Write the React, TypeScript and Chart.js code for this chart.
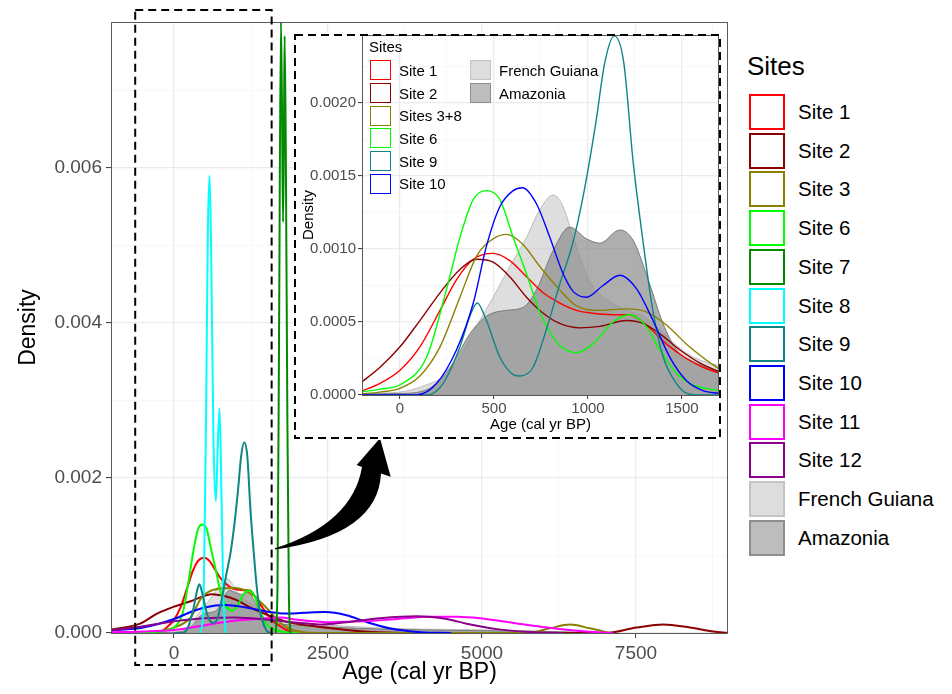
import React, { useEffect, useRef } from "react";
import { Chart, registerables } from "chart.js";
Chart.register(...registerables);

const FONT = "'Liberation Sans', Arial, Helvetica, sans-serif";

// ---------------- MAIN CHART DATA (Age cal yr BP, density) ----------------
const mSite1X = [-1050, -500, -212, -106, 0, 106, 213, 301, 390, 496, 584, 673, 762, 850, 939, 1027, 1133, 1222, 1310, 1417, 1523, 1612, 1700, 1800, 1900, 2000];
const mSite1Y = [0, 0.000005, 0.000023, 0.00008, 0.00017, 0.00033, 0.00058, 0.00079, 0.00093, 0.00097, 0.00092, 0.00081, 0.0007, 0.00063, 0.00058, 0.00056, 0.00055, 0.00055, 0.00048, 0.00035, 0.00023, 0.00015, 0.0001, 0.00005, 0.00001, 0];
const mSite2X = [-1050, -550, -275, 0, 270, 500, 620, 800, 1000, 1260, 1530, 1800, 2340, 2800, 3300, 4000, 7000, 7510, 7943, 8376, 8754, 8990];
const mSite2Y = [0.00004, 0.00012, 0.00025, 0.00034, 0.00041, 0.00048, 0.0005, 0.00048, 0.00043, 0.00032, 0.00023, 0.00015, 0.00008, 0.00004, 0.00001, 0, 0, 0.00007, 0.00011, 0.00007, 0.00002, 0];
const mSite3X = [-1050, -300, 0, 270, 450, 720, 1000, 1260, 1530, 1700, 1860, 2100, 2300, 5750, 6100, 6430, 6750, 7080];
const mSite3Y = [0, 0.00002, 0.00007, 0.0002, 0.00046, 0.00057, 0.00058, 0.0005, 0.0003, 0.00015, 0.00006, 0.00001, 0, 0, 0.00006, 0.00011, 0.00006, 0];
const mSite6X = [-1050, -500, -212, -106, 0, 142, 251, 319, 390, 460, 531, 602, 673, 753, 850, 939, 1027, 1133, 1222, 1310, 1381, 1470, 1558, 1691, 1850, 2000];
const mSite6Y = [0, 0.00001, 0.00002, 0.00004, 0.00007, 0.00026, 0.00074, 0.00108, 0.00134, 0.0014, 0.00134, 0.00108, 0.00083, 0.00054, 0.00034, 0.00029, 0.00035, 0.0005, 0.00055, 0.00047, 0.00031, 0.00015, 0.00007, 0.00003, 0.000005, 0];
const mSite7X = [1650, 1680, 1705, 1736, 1755, 1770, 1785, 1796, 1815, 1840, 1865, 1890];
const mSite7Y = [0, 0.0006, 0.0038, 0.0079, 0.0066, 0.0053, 0.0065, 0.0077, 0.0062, 0.0028, 0.0005, 0];
const mSite8X = [430, 480, 520, 550, 578, 605, 640, 680, 710, 739, 770, 800, 840];
const mSite8Y = [0, 0.0004, 0.0028, 0.0052, 0.0059, 0.0048, 0.0025, 0.0017, 0.0024, 0.0029, 0.0018, 0.0005, 0];
const mSite9X = [0, 142, 230, 319, 372, 411, 460, 531, 602, 638, 708, 779, 850, 921, 980, 1040, 1090, 1140, 1190, 1240, 1290, 1345, 1400, 1470, 1530, 1600];
const mSite9Y = [0, 0, 0.00008, 0.00033, 0.00054, 0.00063, 0.00051, 0.00026, 0.00014, 0.00013, 0.00019, 0.00045, 0.00076, 0.00105, 0.0014, 0.00185, 0.00228, 0.00246, 0.00228, 0.0016, 0.00108, 0.00058, 0.00026, 0.00008, 0.00001, 0];
const mSite10X = [-1050, -500, 0, 300, 500, 830, 1160, 1560, 1800, 2100, 2450, 2800, 3130, 3500, 4000, 4500];
const mSite10Y = [0.00003, 0.00007, 0.00018, 0.00028, 0.00033, 0.00036, 0.00033, 0.00027, 0.00025, 0.00026, 0.00027, 0.00023, 0.00014, 0.00006, 0.00001, 0];
const mSite11X = [-1050, -500, 0, 500, 1000, 1500, 1730, 2000, 2500, 3080, 3620, 4160, 4600, 4970, 5510, 6050, 6590, 7130];
const mSite11Y = [0.00001, 0.00002, 0.00004, 0.0001, 0.00016, 0.00019, 0.0002, 0.00017, 0.00014, 0.00015, 0.00018, 0.00021, 0.00021, 0.00019, 0.00013, 0.00007, 0.000026, 0];
const mSite12X = [-1050, -550, 0, 500, 1000, 1530, 2070, 2400, 2800, 3350, 3940, 4430, 4750, 5240, 5780, 6320];
const mSite12Y = [0.00003, 0.00008, 0.00015, 0.00019, 0.0002, 0.00017, 0.00013, 0.00011, 0.00014, 0.00019, 0.000215, 0.00018, 0.00012, 0.00005, 0.000013, 0];
const mGuianaX = [-1050, 0, 200, 400, 600, 800, 870, 950, 1050, 1200, 1400, 1600, 1800, 2000, 2500, 3000, 3500, 4000, 5000, 6000, 7000];
const mGuianaY = [0, 0.00001, 0.00005, 0.00025, 0.00045, 0.00068, 0.0007, 0.00063, 0.0005, 0.0004, 0.00032, 0.0002, 0.00015, 0.00013, 0.0001, 0.00008, 0.00006, 0.00005, 0.00004, 0.00002, 0];
const mAmazX = [-1050, 0, 200, 300, 400, 500, 700, 800, 900, 1000, 1100, 1200, 1300, 1400, 1500, 1700, 2000, 2500, 3000, 4000, 5000, 6000, 7000];
const mAmazY = [0, 0.00001, 0.00004, 0.0001, 0.0002, 0.00025, 0.0003, 0.00045, 0.00055, 0.00052, 0.0005, 0.00053, 0.00042, 0.00026, 0.00017, 0.00012, 0.0001, 0.00008, 0.00006, 0.00004, 0.00003, 0.00002, 0];

const MAIN_X_MIN = -1023;
const MAIN_X_MAX = 8994;
const MAIN_Y_MAX = 0.00788;
const MAIN_X_TICKS = [0, 1250, 2500, 3750, 5000, 6250, 7500, 8750];
const MAIN_X_LABELS = ["0", "", "2500", "", "5000", "", "7500", ""];
const MAIN_Y_TICKS = [0, 0.001, 0.002, 0.003, 0.004, 0.005, 0.006, 0.007];
const MAIN_Y_LABELS = ["0.000", "", "0.002", "", "0.004", "", "0.006", ""];
const ZOOM_BOX_X = [-630, 1585];

// ---------------- INSET DATA ----------------
const iSite1X = [-212, -106, 0, 106, 213, 301, 390, 496, 584, 673, 762, 850, 939, 1027, 1133, 1222, 1310, 1417, 1523, 1612, 1697];
const iSite1Y = [0.000023, 0.00008, 0.00017, 0.00033, 0.00058, 0.00079, 0.00093, 0.00097, 0.00092, 0.00081, 0.0007, 0.00063, 0.00058, 0.00056, 0.00055, 0.00055, 0.00048, 0.00035, 0.00025, 0.00019, 0.00015];
const iSite2X = [-212, -106, 0, 106, 213, 319, 407, 496, 584, 673, 762, 850, 956, 1063, 1204, 1293, 1381, 1488, 1594, 1697];
const iSite2Y = [0.00008, 0.00019, 0.00033, 0.00051, 0.0007, 0.00086, 0.00093, 0.00091, 0.00081, 0.00067, 0.00056, 0.00049, 0.00046, 0.00047, 0.00051, 0.00049, 0.00042, 0.00031, 0.00022, 0.00016];
const iSite38X = [-212, -106, 0, 106, 213, 319, 407, 496, 567, 655, 744, 850, 939, 1063, 1204, 1310, 1417, 1523, 1629, 1697];
const iSite38Y = [0.000007, 0.00002, 0.000046, 0.00013, 0.00033, 0.00067, 0.00095, 0.00107, 0.0011, 0.00103, 0.00088, 0.00072, 0.00061, 0.00058, 0.00059, 0.00057, 0.00048, 0.00035, 0.00024, 0.00018];
const iSite6X = [-212, -106, 0, 142, 251, 319, 390, 460, 531, 602, 673, 753, 850, 939, 1027, 1133, 1222, 1310, 1381, 1470, 1558, 1691];
const iSite6Y = [0.00002, 0.00004, 0.00007, 0.00026, 0.00074, 0.00108, 0.00134, 0.0014, 0.00134, 0.00108, 0.00083, 0.00054, 0.00034, 0.00029, 0.00035, 0.0005, 0.00055, 0.00047, 0.00031, 0.00015, 0.00007, 0.00003];
const iSite9X = [-212, 142, 230, 319, 372, 411, 460, 531, 602, 638, 708, 779, 850, 921, 980, 1040, 1090, 1140, 1190, 1240, 1290, 1345, 1400, 1470, 1530, 1600, 1700];
const iSite9Y = [0, 0, 0.00008, 0.00033, 0.00054, 0.00063, 0.00051, 0.00026, 0.00014, 0.00013, 0.00019, 0.00045, 0.00076, 0.00105, 0.0014, 0.00185, 0.00228, 0.00246, 0.00228, 0.0016, 0.00108, 0.00058, 0.00026, 0.00008, 0.00001, 0, 0];
const iSite10X = [-212, 89, 195, 301, 390, 460, 531, 602, 652, 726, 797, 868, 921, 992, 1080, 1169, 1257, 1346, 1435, 1523, 1612, 1697];
const iSite10Y = [0, 0, 0.00008, 0.00031, 0.00063, 0.00102, 0.00129, 0.0014, 0.00142, 0.00131, 0.00108, 0.00083, 0.00071, 0.00067, 0.00075, 0.00082, 0.00073, 0.00051, 0.00026, 0.0001, 0.00003, 0.00001];
const iGuianaX = [-212, 0, 142, 248, 319, 407, 496, 584, 673, 744, 815, 868, 921, 974, 1027, 1116, 1204, 1293, 1381, 1470, 1558, 1697];
const iGuianaY = [0.00001, 0.00002, 0.00007, 0.00014, 0.00026, 0.00047, 0.00067, 0.00088, 0.00108, 0.00127, 0.00137, 0.00129, 0.00108, 0.00088, 0.00074, 0.00064, 0.00058, 0.00054, 0.00045, 0.00034, 0.00026, 0.0002];
const iAmazX = [-212, 0, 177, 283, 372, 460, 567, 655, 726, 815, 903, 992, 1063, 1169, 1240, 1328, 1399, 1470, 1558, 1629, 1697];
const iAmazY = [0.000007, 0.00001, 0.00006, 0.00022, 0.00042, 0.00054, 0.00058, 0.0006, 0.00072, 0.00099, 0.00115, 0.00107, 0.00104, 0.00113, 0.00106, 0.00076, 0.00049, 0.00031, 0.00023, 0.00019, 0.00016];

const INSET_X_MIN = -202;
const INSET_X_MAX = 1697;
const INSET_Y_MAX = 0.002466;
const INSET_X_TICKS = [0, 250, 500, 750, 1000, 1250, 1500];
const INSET_X_LABELS = ["0", "", "500", "", "1000", "", "1500"];
const INSET_Y_TICKS = [0, 0.00025, 0.0005, 0.00075, 0.001, 0.00125, 0.0015, 0.00175, 0.002, 0.00225];
const INSET_Y_LABELS = ["0.0000", "", "0.0005", "", "0.0010", "", "0.0015", "", "0.0020", ""];

// ---------------- COLOURS & LEGENDS ----------------
const C = {
  s1: "#FF0000", s2: "#8B0000", s3: "#8B8000", s6: "#00FF00", s7: "#008B00",
  s8: "#00FFFF", s9: "#108585", s10: "#0000FF", s11: "#FF00FF", s12: "#8B008B",
};
const GUIANA_FILL = "rgba(200,200,200,0.6)";
const GUIANA_LINE = "#BDBDBD";
const AMAZ_FILL = "rgba(140,140,140,0.7)";
const AMAZ_LINE = "#7A7A7A";

const MAIN_LEGEND_LABELS = ["Site 1", "Site 2", "Site 3", "Site 6", "Site 7", "Site 8", "Site 9", "Site 10", "Site 11", "Site 12", "French Guiana", "Amazonia"];
const MAIN_LEGEND_COLORS = [C.s1, C.s2, C.s3, C.s6, C.s7, C.s8, C.s9, C.s10, C.s11, C.s12, "fg", "am"];
const INSET_LEGEND_COL1 = ["Site 1", "Site 2", "Sites 3+8", "Site 6", "Site 9", "Site 10"];
const INSET_LEGEND_COL1_COLORS = [C.s1, C.s2, C.s3, C.s6, C.s9, C.s10];
const INSET_LEGEND_COL2 = ["French Guiana", "Amazonia"];

function pts(xs: number[], ys: number[]) {
  return xs.map((x, i) => ({ x, y: ys[i] }));
}
function line(label: string, xs: number[], ys: number[], color: string, w: number, order: number) {
  return {
    label, data: pts(xs, ys), borderColor: color, borderWidth: w, pointRadius: 0,
    cubicInterpolationMode: "monotone", fill: false, order,
  };
}
function area(label: string, xs: number[], ys: number[], fillC: string, lineC: string, w: number, order: number) {
  return {
    label, data: pts(xs, ys), borderColor: lineC, backgroundColor: fillC, borderWidth: w, pointRadius: 0,
    cubicInterpolationMode: "monotone", fill: "origin", order,
  };
}

function axis(min: number, max: number, tickVals: number[], labels: string[], fontSize: number, title: string, titleSize: number, titlePad: any, tickPad: number, fitSize: number, horizontal: boolean, tickLen: number) {
  const isMajor = (v: number) => tickVals.indexOf(v) >= 0 && labels[tickVals.indexOf(v)] !== "";
  return {
    type: "linear", min, max,
    afterBuildTicks: (s: any) => { s.ticks = tickVals.map((v) => ({ value: v })); },
    afterFit: (s: any) => {
      if (horizontal) s.height = fitSize; else s.width = fitSize;
      s.paddingTop = 0; s.paddingBottom = 0; s.paddingLeft = 0; s.paddingRight = 0;
    },
    ticks: {
      autoSkip: false, maxRotation: 0, padding: tickPad,
      callback: (_v: any, i: number) => labels[i],
      font: { family: FONT, size: fontSize }, color: "#4D4D4D",
    },
    grid: {
      drawTicks: true, tickLength: tickLen,
      color: (ctx: any) => (ctx.tick && isMajor(ctx.tick.value) ? "#EBEBEB" : "#F3F3F3"),
      lineWidth: (ctx: any) => (ctx.tick && isMajor(ctx.tick.value) ? 1.2 : 0.7),
      tickColor: (ctx: any) => (ctx.tick && isMajor(ctx.tick.value) ? "#333333" : "rgba(0,0,0,0)"),
      tickWidth: 1,
    },
    border: { display: false },
    title: { display: true, text: title, color: "#000", font: { family: FONT, size: titleSize }, padding: titlePad },
  };
}

const mainDecor = {
  id: "mainDecor",
  afterDraw(chart: any) {
    const { ctx, chartArea: a, scales } = chart;
    ctx.save();
    ctx.strokeStyle = "#5A5A5A"; ctx.lineWidth = 1;
    ctx.strokeRect(a.left + 0.5, a.top + 0.5, a.right - a.left - 1, a.bottom - a.top);
    // dashed zoom box
    const x0 = scales.x.getPixelForValue(ZOOM_BOX_X[0]);
    const x1 = scales.x.getPixelForValue(ZOOM_BOX_X[1]);
    ctx.setLineDash([8, 5]); ctx.lineWidth = 2; ctx.strokeStyle = "#000";
    ctx.strokeRect(x0, a.top - 12, x1 - x0, a.bottom - a.top + 44);
    ctx.setLineDash([]);
    // curved arrow
    ctx.fillStyle = "#000";
    ctx.beginPath();
    ctx.moveTo(267, 541.5);
    ctx.quadraticCurveTo(370, 527, 373, 465.5);
    ctx.lineTo(382.7, 468.7);
    ctx.lineTo(372, 430.3);
    ctx.lineTo(348.7, 457);
    ctx.lineTo(354, 459);
    ctx.quadraticCurveTo(344.5, 515.3, 267, 540.3);
    ctx.closePath();
    ctx.fill();
    ctx.restore();
  },
};

const insetDecor = {
  id: "insetDecor",
  beforeDraw(chart: any) {
    const { ctx, width, height } = chart;
    ctx.save(); ctx.fillStyle = "#FFFFFF"; ctx.fillRect(0, 0, width, height); ctx.restore();
  },
  afterDraw(chart: any) {
    const { ctx, chartArea: a, width, height } = chart;
    ctx.save();
    ctx.strokeStyle = "#5A5A5A"; ctx.lineWidth = 1;
    ctx.strokeRect(a.left + 0.5, a.top + 0.5, a.right - a.left - 1, a.bottom - a.top);
    ctx.setLineDash([8, 5]); ctx.lineWidth = 2; ctx.strokeStyle = "#000";
    ctx.strokeRect(2, 2, width - 4, height - 4);
    ctx.restore();
  },
};

function Key({ color, size, bw }: { color: string; size: [number, number]; bw: number }) {
  let fill = "#FFFFFF", stroke = color;
  if (color === "fg") { fill = "#DDDDDD"; stroke = "#C4C4C4"; }
  if (color === "am") { fill = "#BDBDBD"; stroke = "#8E8E8E"; }
  return <div style={{ width: size[0], height: size[1], boxSizing: "border-box", border: `${bw}px solid ${stroke}`, background: fill }} />;
}

export default function App() {
  const mainRef = useRef<HTMLCanvasElement>(null);
  const insetRef = useRef<HTMLCanvasElement>(null);

  useEffect(() => {
    const mainChart = new Chart(mainRef.current as HTMLCanvasElement, {
      type: "line",
      data: {
        datasets: [
          line("Site 7", mSite7X, mSite7Y, C.s7, 2, 0),
          line("Site 9", mSite9X, mSite9Y, C.s9, 2, 1),
          line("Site 8", mSite8X, mSite8Y, C.s8, 2, 2),
          line("Site 12", mSite12X, mSite12Y, C.s12, 2, 3),
          line("Site 11", mSite11X, mSite11Y, C.s11, 2, 4),
          line("Site 10", mSite10X, mSite10Y, C.s10, 2, 5),
          line("Site 6", mSite6X, mSite6Y, C.s6, 2, 6),
          line("Site 3", mSite3X, mSite3Y, C.s3, 2, 7),
          line("Site 2", mSite2X, mSite2Y, C.s2, 2, 8),
          line("Site 1", mSite1X, mSite1Y, C.s1, 2, 9),
          area("Amazonia", mAmazX, mAmazY, AMAZ_FILL, AMAZ_LINE, 1, 100),
          area("French Guiana", mGuianaX, mGuianaY, GUIANA_FILL, GUIANA_LINE, 1, 101),
        ] as any,
      },
      options: {
        responsive: false, animation: false,
        layout: { padding: { top: 14, right: 12, left: 0, bottom: 0 } },
        plugins: { legend: { display: false }, tooltip: { enabled: false } },
        scales: {
          x: axis(MAIN_X_MIN, MAIN_X_MAX, MAIN_X_TICKS, MAIN_X_LABELS, 19, "Age (cal yr BP)", 23, { top: 0, bottom: 0 }, 4, 53, true, 5),
          y: axis(0, MAIN_Y_MAX, MAIN_Y_TICKS, MAIN_Y_LABELS, 19, "Density", 23, { top: 7, bottom: 0 }, 4, 103, false, 5),
        } as any,
      },
      plugins: [mainDecor],
    });

    const insetChart = new Chart(insetRef.current as HTMLCanvasElement, {
      type: "line",
      data: {
        datasets: [
          line("Site 10", iSite10X, iSite10Y, C.s10, 1.4, 0),
          line("Site 9", iSite9X, iSite9Y, C.s9, 1.4, 1),
          line("Site 6", iSite6X, iSite6Y, C.s6, 1.4, 2),
          line("Sites 3+8", iSite38X, iSite38Y, C.s3, 1.4, 3),
          line("Site 2", iSite2X, iSite2Y, C.s2, 1.4, 4),
          line("Site 1", iSite1X, iSite1Y, C.s1, 1.4, 5),
          area("Amazonia", iAmazX, iAmazY, AMAZ_FILL, AMAZ_LINE, 1, 100),
          area("French Guiana", iGuianaX, iGuianaY, GUIANA_FILL, GUIANA_LINE, 1, 101),
        ] as any,
      },
      options: {
        responsive: false, animation: false,
        layout: { padding: { top: 2, right: 3, left: 0, bottom: 0 } },
        plugins: { legend: { display: false }, tooltip: { enabled: false } },
        scales: {
          x: axis(INSET_X_MIN, INSET_X_MAX, INSET_X_TICKS, INSET_X_LABELS, 15, "Age (cal yr BP)", 15, { top: 0, bottom: 6 }, 1, 45, true, 4),
          y: axis(0, INSET_Y_MAX, INSET_Y_TICKS, INSET_Y_LABELS, 15, "Density", 15, { top: 7, bottom: 0 }, 2, 69, false, 4),
        } as any,
      },
      plugins: [insetDecor],
    });

    return () => { mainChart.destroy(); insetChart.destroy(); };
  }, []);

  const mainRowTop = (i: number) => 112 + i * 38.7 - 8;
  const insetRowTop = (i: number) => 70.3 + i * 22.7 - 8;

  return (
    <div style={{ position: "relative", width: 936, height: 678, fontFamily: FONT }}>
      <canvas ref={mainRef} width={732} height={678} style={{ position: "absolute", left: 0, top: 0, width: 732, height: 678 }} />
      <canvas ref={insetRef} width={429} height={407} style={{ position: "absolute", left: 285, top: 25, width: 429, height: 407 }} />

      {/* main legend */}
      <div style={{ position: "absolute", left: 739, top: 66 - 8 - 15, fontSize: 26, lineHeight: "30px", color: "#000" }}>Sites</div>
      {MAIN_LEGEND_LABELS.map((lab, i) => (
        <div key={lab} style={{ position: "absolute", left: 741, top: mainRowTop(i) - 18, height: 36, display: "flex", alignItems: "center" }}>
          <Key color={MAIN_LEGEND_COLORS[i]} size={[36, 36]} bw={2.5} />
          <span style={{ marginLeft: 13, fontSize: 20.5, color: "#000", whiteSpace: "nowrap" }}>{lab}</span>
        </div>
      ))}

      {/* inset legend */}
      <div style={{ position: "absolute", left: 361, top: 47 - 8 - 9, fontSize: 15, lineHeight: "18px", color: "#000" }}>Sites</div>
      {INSET_LEGEND_COL1.map((lab, i) => (
        <div key={lab} style={{ position: "absolute", left: 362, top: insetRowTop(i) - 10, height: 20, display: "flex", alignItems: "center" }}>
          <Key color={INSET_LEGEND_COL1_COLORS[i]} size={[21, 20]} bw={1.5} />
          <span style={{ marginLeft: 8, fontSize: 15, color: "#000", whiteSpace: "nowrap" }}>{lab}</span>
        </div>
      ))}
      {INSET_LEGEND_COL2.map((lab, i) => (
        <div key={lab} style={{ position: "absolute", left: 462, top: insetRowTop(i) - 10, height: 20, display: "flex", alignItems: "center" }}>
          <Key color={i === 0 ? "fg" : "am"} size={[21, 20]} bw={1.5} />
          <span style={{ marginLeft: 8, fontSize: 15, color: "#000", whiteSpace: "nowrap" }}>{lab}</span>
        </div>
      ))}
    </div>
  );
}
